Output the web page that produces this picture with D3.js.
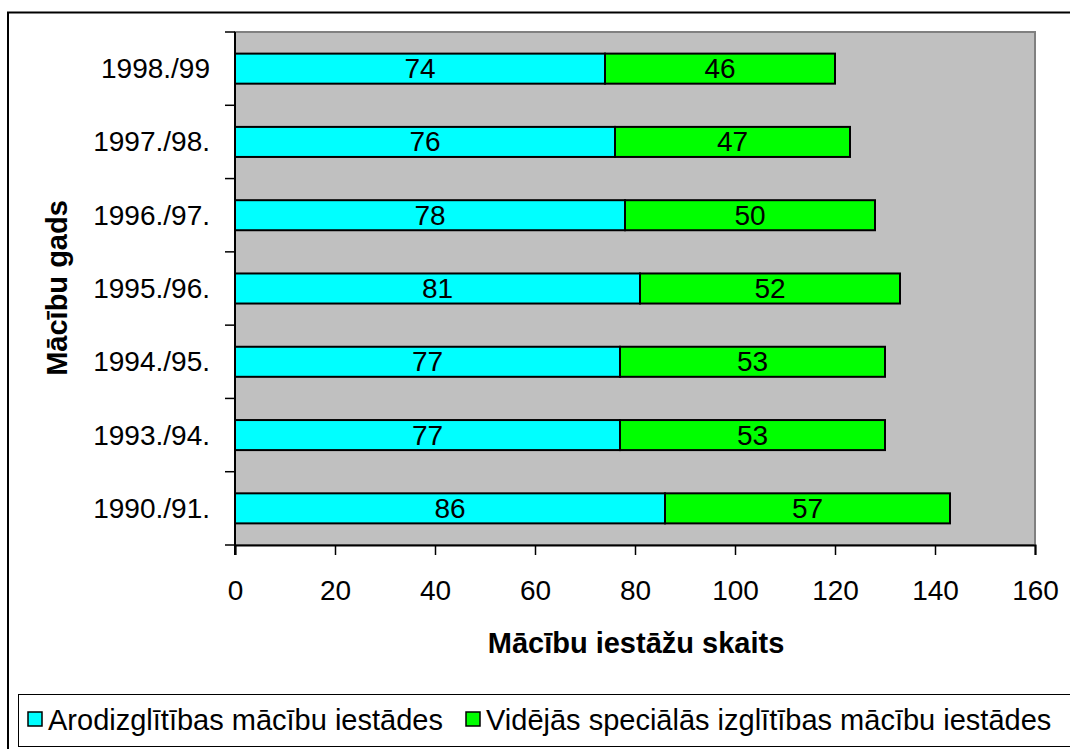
<!DOCTYPE html>
<html>
<head>
<meta charset="utf-8">
<script src="https://cdn.jsdelivr.net/npm/d3@7"></script>
<style>
  html, body { margin: 0; padding: 0; background: #fff; }
  svg { display: block; font-family: "Liberation Sans", Arial, sans-serif; }
</style>
</head>
<body>
<svg id="chart" width="1070" height="749"></svg>
<script>
// Academic years, top to bottom
const years = ["1998./99", "1997./98.", "1996./97.", "1995./96.", "1994./95.", "1993./94.", "1990./91."];
// Vocational education institutions
const vocational = [74, 76, 78, 81, 77, 77, 86];
// Secondary specialised education institutions
const specialised = [46, 47, 50, 52, 53, 53, 57];
const xTicks = [0, 20, 40, 60, 80, 100, 120, 140, 160];
const seriesNames = ["Arodizglītības mācību iestādes", "Vidējās speciālās izglītības mācību iestādes"];
const seriesColors = ["#00ffff", "#00ff00"];

const FONT = "Liberation Sans, Arial, sans-serif";
const svg = d3.select("#chart");

// Outer chart frame
svg.append("rect")
  .attr("x", 8).attr("y", 12.5)
  .attr("width", 1080).attr("height", 760)
  .attr("fill", "#fff").attr("stroke", "#000").attr("stroke-width", 2);

const plot = { left: 235, right: 1035, top: 32, bottom: 545 };

const x = d3.scaleLinear().domain([0, 160]).range([plot.left, plot.right]);
const y = d3.scaleBand().domain(years).range([plot.top, plot.bottom]).paddingInner(0.59).paddingOuter(0.295);

// Plot background
svg.append("rect")
  .attr("x", plot.left).attr("y", plot.top)
  .attr("width", plot.right - plot.left).attr("height", plot.bottom - plot.top)
  .attr("fill", "#c0c0c0").attr("stroke", "#808080").attr("stroke-width", 2);

// Stacked bars
const rows = years.map((yr, i) => ({ yr, v: vocational[i], s: specialised[i] }));
const segs = [];
rows.forEach(r => {
  segs.push({ yr: r.yr, x0: 0, x1: r.v, val: r.v, c: seriesColors[0] });
  segs.push({ yr: r.yr, x0: r.v, x1: r.v + r.s, val: r.s, c: seriesColors[1] });
});

svg.append("g").selectAll("rect").data(segs).join("rect")
  .attr("x", d => x(d.x0))
  .attr("y", d => y(d.yr))
  .attr("width", d => x(d.x1) - x(d.x0))
  .attr("height", y.bandwidth())
  .attr("fill", d => d.c)
  .attr("stroke", "#000").attr("stroke-width", 2);

svg.append("g").selectAll("text").data(segs).join("text")
  .attr("x", d => (x(d.x0) + x(d.x1)) / 2)
  .attr("y", d => y(d.yr) + y.bandwidth() / 2)
  .attr("text-anchor", "middle").attr("dominant-baseline", "central")
  .attr("font-size", 28).attr("fill", "#000")
  .text(d => d.val);

// X axis
const xAxis = d3.axisBottom(x).tickValues(xTicks).tickSize(10).tickPadding(25);
const gx = svg.append("g").attr("transform", `translate(0,${plot.bottom})`).call(xAxis);
gx.select(".domain").attr("stroke", "#000").attr("stroke-width", 2);
gx.selectAll(".tick line").attr("stroke", "#000").attr("stroke-width", 1.5);
gx.selectAll(".tick text").attr("font-size", 28).attr("font-family", FONT).attr("fill", "#000");

// Y axis: ticks at category boundaries
const gy = svg.append("g");
gy.append("line")
  .attr("x1", plot.left).attr("x2", plot.left)
  .attr("y1", plot.top).attr("y2", plot.bottom + 10)
  .attr("stroke", "#000").attr("stroke-width", 2);
const step = (plot.bottom - plot.top) / years.length;
gy.selectAll("line.tk").data(d3.range(years.length + 1)).join("line")
  .attr("class", "tk")
  .attr("x1", plot.left - 10).attr("x2", plot.left)
  .attr("y1", i => plot.top + i * step).attr("y2", i => plot.top + i * step)
  .attr("stroke", "#000").attr("stroke-width", 1.5);
gy.selectAll("text").data(years).join("text")
  .attr("x", 210)
  .attr("y", d => y(d) + y.bandwidth() / 2)
  .attr("text-anchor", "end").attr("dominant-baseline", "central")
  .attr("font-size", 28).attr("fill", "#000")
  .text(d => d);

// Axis titles
svg.append("text")
  .attr("x", 636).attr("y", 643)
  .attr("text-anchor", "middle").attr("dominant-baseline", "central")
  .attr("font-size", 29).attr("font-weight", "bold")
  .text("Mācību iestāžu skaits");
svg.append("text")
  .attr("transform", "translate(57,288) rotate(-90)")
  .attr("text-anchor", "middle").attr("dominant-baseline", "central")
  .attr("font-size", 29).attr("font-weight", "bold")
  .text("Mācību gads");

// Legend
const lg = svg.append("g");
lg.append("rect")
  .attr("x", 18.5).attr("y", 694.5).attr("width", 1080).attr("height", 52)
  .attr("fill", "#fff").attr("stroke", "#000").attr("stroke-width", 1);
const legendItems = [
  { name: seriesNames[0], color: seriesColors[0], x: 28 },
  { name: seriesNames[1], color: seriesColors[1], x: 466 }
];
legendItems.forEach(it => {
  lg.append("rect")
    .attr("x", it.x).attr("y", 712).attr("width", 14).attr("height", 14)
    .attr("fill", it.color).attr("stroke", "#000").attr("stroke-width", 1.5);
  lg.append("text")
    .attr("x", it.x + 20).attr("y", 720)
    .attr("dominant-baseline", "central")
    .attr("font-size", 29).attr("fill", "#000")
    .text(it.name);
});
</script>
</body>
</html>
